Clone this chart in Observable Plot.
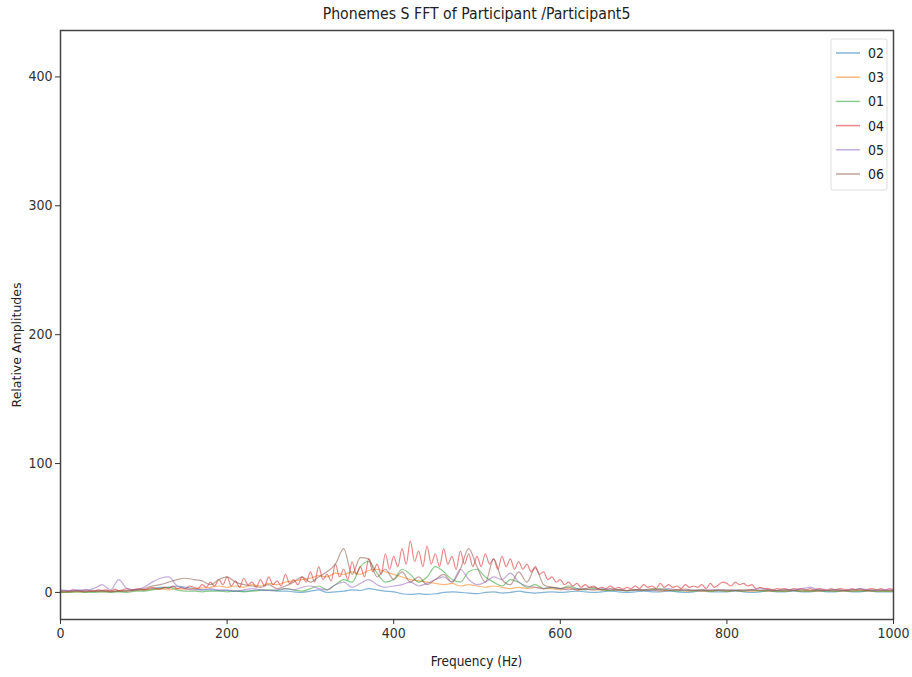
<!DOCTYPE html>
<html>
<head>
<meta charset="utf-8">
<script src="https://cdn.jsdelivr.net/npm/d3@7"></script>
<script src="https://cdn.jsdelivr.net/npm/@observablehq/plot@0.6"></script>
<style>
  html, body { margin: 0; padding: 0; background: #fff; }
  #chart svg { display: block; }
</style>
</head>
<body>
<div id="chart"></div>
<script>
const seriesNames = ["02", "03", "01", "04", "05", "06"];
const seriesColors = ["#1f77b4", "#ff7f0e", "#2ca02c", "#d62728", "#9467bd", "#8c564b"];
const xTicks = [0, 200, 400, 600, 800, 1000];
const yTicks = [0, 100, 200, 300, 400];

// frequency grids (Hz)
const freq10 = d3.range(0, 1001, 10);
const freq5 = d3.range(0, 1001, 5);

const s02 = [
  1,1,1.5,1,1,1.5,1,1,1.5,2,
  2,3,4,4,5,4,3,2,2,1.5,
  1.5,1,1,1.5,2,1.5,1,1,0.5,0,
  1,2,0,0.5,1,2,1.5,3,2,1,
  0.5,-1,-1.5,-1,-1.5,-1,0,0.5,0,-0.5,
  -1,0,0.5,-0.5,0,1,0,-0.5,0,0.5,
  0,0.5,1,0.5,0,0.5,1,0.5,0,0.5,
  1,0.5,0.5,1,0.5,0,0.5,1,0.5,0.5,
  0.5,1,0.5,0,0.5,1,0.5,0.5,1,0.5,
  0.5,1,0.5,0.5,1,0.5,0.5,1,0.5,0.5,0.5
];
const s03 = [
  0,0.5,0.5,0.5,1,0.5,1,1,1,1.5,
  2,2.5,3,2,3,2.5,3,3.5,4,5,
  4,5,4,6,5,7,6,8,9,10,
  11,13,12,15,14,16,14,17,18,16,
  14,12,10,9,8,7,6,7,5,6,
  5,4,5,4,3,4,3,4,3,3,
  2,3,2,2.5,2,2,1.5,2,1.5,2,
  1.5,2,1,1.5,2,1,1.5,1,1,1.5,
  1,1.5,1,1,1.5,1,1,1,1.5,1,
  1,1,1.5,1,1,1,1.5,1,1,1,1
];
const s01 = [
  0,0,0.5,0,0,0.5,0,0.5,0,1,
  1,2,3,4,2,1,1,0.5,1,1,
  0.5,1,0.5,1,1.5,2,1.5,3,2,1,
  3,5,2,6,10,8,20,24,15,8,
  10,18,14,8,12,20,16,10,8,16,
  18,12,8,5,10,8,4,6,3,4,
  3,5,3,2,3,2,1.5,2,1,2,
  1.5,2,3,2,1,1.5,1,2,1,1.5,
  1,1.5,1,2,1,1.5,1,1,1.5,1,
  1,1.5,1,1,1.5,1,1,1.5,1,1,1
];
const s04 = [
  1,1.5,1,2,1.5,1,2,1.5,1,2,
  1.5,2,1,2.5,1.5,2,3,2,2.5,3,
  2,3,4,3,2.5,4,3,5,3,4,
  3,5,4,3,6,4,8,5,10,6,
  12,5,9,4,11,6,8,4,10,5,
  12,6,9,5,14,7,10,6,12,8,
  16,8,20,10,14,9,22,12,18,10,
  24,14,20,12,26,16,22,14,30,18,
  28,20,34,22,40,24,32,20,36,22,
  30,20,34,22,28,18,32,22,30,20,
  28,20,30,22,26,18,28,20,26,18,
  24,18,22,16,20,14,16,10,12,8,
  10,6,8,5,7,4,6,4,5,3,
  4,3,5,3,4,2.5,4,3,5,3,
  6,4,5,3,7,4,6,4,5,3,
  6,4,5,4,6,3,7,4,6,8,
  7,5,8,6,7,5,6,3,4,3,
  3,2,3,2.5,3,2,3,2.5,3,2,
  3,2,3,2.5,2,3,2,3,2.5,2,
  3,2,3,2,2.5,3,2,3,2,3,
  2
];
const s05 = [
  2,1.5,2,2,3,6,2,10,3,2,
  4,8,11,12,5,3,2,2,3,2,
  2,1,2,3,2,1.5,2,3,2,4,
  5,3,2,6,8,4,7,10,6,4,
  5,6,8,5,7,10,12,8,18,10,
  6,8,12,10,15,8,5,4,3,4,
  3,2,3,2.5,2,3,2,2,1.5,2,
  2,1.5,2,3,2,1.5,2,1.5,2,2,
  1.5,2,1.5,2,3,2,1.5,2,2,3,
  4,2,1.5,2,1.5,2,3,2,1.5,2,2
];
const s06 = [
  0.5,0.5,1,0.5,1,1,0.5,1,1,2,
  3,5,6,8,10,11,10,9,6,10,
  12,8,6,5,4,6,3,5,8,12,
  8,12,16,22,34,14,27,26,12,18,
  10,16,8,12,6,10,14,8,18,34,
  20,8,26,10,6,16,8,19,6,4,
  3,4,2,3,4,2,3,2,1.5,2,
  2,3,2,1.5,2,2.5,1.5,2,1.5,2,
  2,1.5,2,2,1.5,2,1.5,2,1.5,2,
  1.5,2,1.5,2,1.5,2,2,1.5,2,1.5,1.5
];

const seriesData = [
  {name: "02", f: freq10, v: s02},
  {name: "03", f: freq10, v: s03},
  {name: "01", f: freq10, v: s01},
  {name: "04", f: freq5, v: s04},
  {name: "05", f: freq10, v: s05},
  {name: "06", f: freq10, v: s06}
];
const rows = seriesData.flatMap(s => s.v.map((v, i) => ({series: s.name, f: s.f[i], v})));

const W = 912, H = 677;
const mL = 60, mR = 19, mT = 30, mB = 58;
const font = "'Liberation Sans Narrow', 'DejaVu Sans Condensed', 'Noto Sans', sans-serif";

const chart = Plot.plot({
  width: W,
  height: H,
  marginLeft: mL,
  marginRight: mR,
  marginTop: mT,
  marginBottom: mB,
  style: {fontFamily: font, fontSize: "14px", color: "#333", background: "#fff"},
  x: {domain: [0, 1000]},
  y: {domain: [-21, 436]},
  color: {domain: seriesNames, range: seriesColors},
  marks: [
    Plot.line(rows, {x: "f", y: "v", z: "series", stroke: "series", strokeWidth: 1.2, strokeOpacity: 0.55, curve: "monotone-x"}),
    Plot.frame({stroke: "#444", strokeWidth: 1.5}),
    Plot.axisX({ticks: xTicks, tickSize: 5, tickPadding: 4, label: null, tickFormat: d => String(d), fontSize: 14}),
    Plot.axisY({ticks: yTicks, tickSize: 5, tickPadding: 3, label: null, tickFormat: d => String(d), fontSize: 14})
  ]
});

const svg = d3.select(chart);
svg.append("text")
  .attr("x", (mL + W - mR) / 2).attr("y", 19)
  .attr("text-anchor", "middle")
  .style("font-family", font).style("font-size", "15.7px").attr("fill", "#222")
  .text("Phonemes S FFT of Participant /Participant5");
svg.append("text")
  .attr("x", (mL + W - mR) / 2).attr("y", 666)
  .attr("text-anchor", "middle")
  .style("font-family", font).style("font-size", "13.5px").attr("fill", "#222")
  .text("Frequency (Hz)");
svg.append("text")
  .attr("transform", `translate(21, 345) rotate(-90)`)
  .attr("text-anchor", "middle")
  .style("font-family", "'DejaVu Sans', sans-serif").style("font-size", "12.5px").attr("fill", "#222")
  .text("Relative Amplitudes");

// legend
const lg = svg.append("g").attr("text-anchor", "start");
lg.append("rect")
  .attr("x", 831).attr("y", 39).attr("width", 56).attr("height", 151)
  .attr("rx", 2).attr("fill", "#fff").attr("stroke", "#ddd");
seriesNames.forEach((n, i) => {
  const y = 53 + i * 24.2;
  lg.append("line").attr("x1", 836).attr("x2", 860).attr("y1", y).attr("y2", y)
    .attr("stroke", seriesColors[i]).attr("stroke-opacity", 0.55).attr("stroke-width", 1.5);
  lg.append("text").attr("x", 868).attr("y", y).attr("dy", "0.35em")
    .attr("text-anchor", "start")
    .style("font-family", font).style("font-size", "14px").attr("fill", "#222").text(n);
});

document.getElementById("chart").appendChild(chart);
</script>
</body>
</html>
